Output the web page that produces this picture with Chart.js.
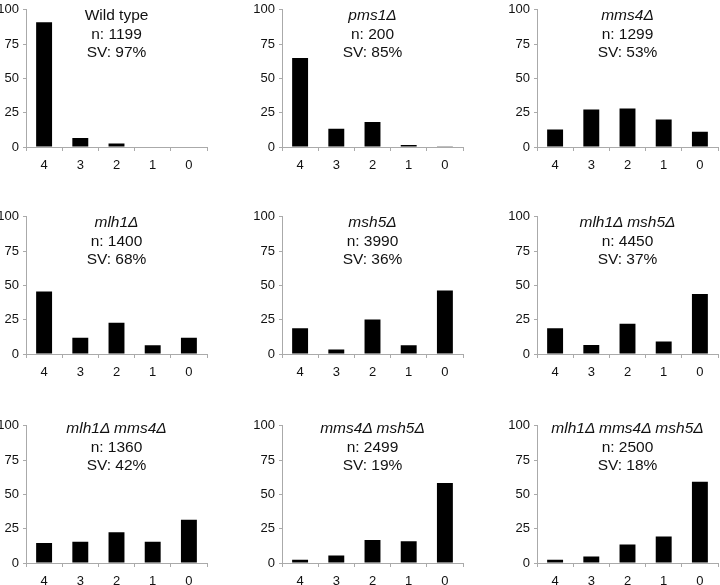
<!DOCTYPE html>
<html>
<head>
<meta charset="utf-8">
<script src="https://cdn.jsdelivr.net/npm/chart.js@4"></script>
<style>
  html, body { margin: 0; padding: 0; background: #fff; }
  #wrap { position: relative; width: 720px; height: 585px; overflow: hidden; }
  canvas { position: absolute; }
  .lbl { position: absolute; width: 181px; text-align: center; font-family: "Liberation Sans", Arial, sans-serif;
         font-size: 15.5px; line-height: 18.5px; color: #111; white-space: nowrap; }
  .lbl i { font-style: italic; }
</style>
</head>
<body>
<div id="wrap"></div>
<script>
// Categories (number of viable spores per tetrad)
const categories = ["4", "3", "2", "1", "0"];
const yTicks = [0, 25, 50, 75, 100];

// Panel titles
const genotypes = ["Wild type", "pms1Δ", "mms4Δ", "mlh1Δ", "msh5Δ", "mlh1Δ msh5Δ", "mlh1Δ mms4Δ", "mms4Δ msh5Δ", "mlh1Δ mms4Δ msh5Δ"];
const italicTitle = [false, true, true, true, true, true, true, true, true];
const nValues = [1199, 200, 1299, 1400, 3990, 4450, 1360, 2499, 2500];
const svValues = [97, 85, 53, 68, 36, 37, 42, 19, 18];

// Percent of tetrads per class (4,3,2,1,0 viable spores)
const wildType      = [91, 6.6, 2.6, 0, 0];
const pms1          = [64.8, 13.3, 18.3, 1.4, 0.5];
const mms4          = [12.8, 27.4, 28.1, 20.1, 11.1];
const mlh1          = [45.5, 11.8, 22.7, 6.4, 11.8];
const msh5          = [18.7, 3.3, 25.1, 6.4, 46.2];
const mlh1msh5      = [18.7, 6.6, 22.0, 9.2, 43.8];
const mlh1mms4      = [14.5, 15.4, 22.5, 15.4, 31.5];
const mms4msh5      = [2.4, 5.5, 16.8, 15.9, 58.3];
const mlh1mms4msh5  = [2.4, 4.7, 13.5, 19.4, 59.2];

const seriesList = [wildType, pms1, mms4, mlh1, msh5, mlh1msh5, mlh1mms4, mms4msh5, mlh1mms4msh5];

// Layout
const plotLefts = [26, 282, 537];
const plotTops = [6, 213, 422];
const textTops = [6, 213, 419];
const plotW = 181, plotH = 141;
const yAxisW = 40, xAxisH = 32, padTop = 8, padRight = 4;

const wrap = document.getElementById('wrap');
const font = { family: '"Liberation Sans", Arial, sans-serif', size: 13 };

seriesList.forEach((data, i) => {
  const r = Math.floor(i / 3), c = i % 3;
  const cv = document.createElement('canvas');
  const W = yAxisW + plotW + padRight;
  const H = padTop + plotH + xAxisH;
  cv.width = W; cv.height = H;
  cv.style.left = (plotLefts[c] - yAxisW) + 'px';
  cv.style.top = (plotTops[r] - padTop) + 'px';
  cv.style.width = W + 'px'; cv.style.height = H + 'px';
  wrap.appendChild(cv);

  new Chart(cv, {
    type: 'bar',
    data: {
      labels: categories,
      datasets: [{ data: data, backgroundColor: '#000', borderWidth: 0,
                   categoryPercentage: 1, barPercentage: 0.44 }]
    },
    options: {
      responsive: false, animation: false,
      layout: { padding: { top: padTop, right: padRight, left: 0, bottom: 0 } },
      plugins: { legend: { display: false }, tooltip: { enabled: false } },
      scales: {
        x: {
          grid: { display: true, drawOnChartArea: false, drawTicks: true, tickLength: 4, color: '#aaa', offset: true },
          border: { color: '#aaa', width: 1 },
          ticks: { color: '#111', font: font, padding: 7 },
          afterFit: s => { s.height = xAxisH; }
        },
        y: {
          min: 0, max: 100,
          afterBuildTicks: s => { s.ticks = yTicks.map(v => ({ value: v })); },
          grid: { display: true, drawOnChartArea: false, drawTicks: true, tickLength: 3, color: '#aaa' },
          border: { color: '#aaa', width: 1 },
          ticks: { color: '#111', font: font, padding: 4 },
          afterFit: s => { s.width = yAxisW; }
        }
      }
    }
  });

  const d = document.createElement('div');
  d.className = 'lbl';
  d.style.left = plotLefts[c] + 'px';
  d.style.top = textTops[r] + 'px';
  const t = document.createElement(italicTitle[i] ? 'i' : 'span');
  t.textContent = genotypes[i];
  d.appendChild(t);
  d.appendChild(document.createElement('br'));
  d.appendChild(document.createTextNode('n: ' + nValues[i]));
  d.appendChild(document.createElement('br'));
  d.appendChild(document.createTextNode('SV: ' + svValues[i] + '%'));
  wrap.appendChild(d);
});
</script>
</body>
</html>
